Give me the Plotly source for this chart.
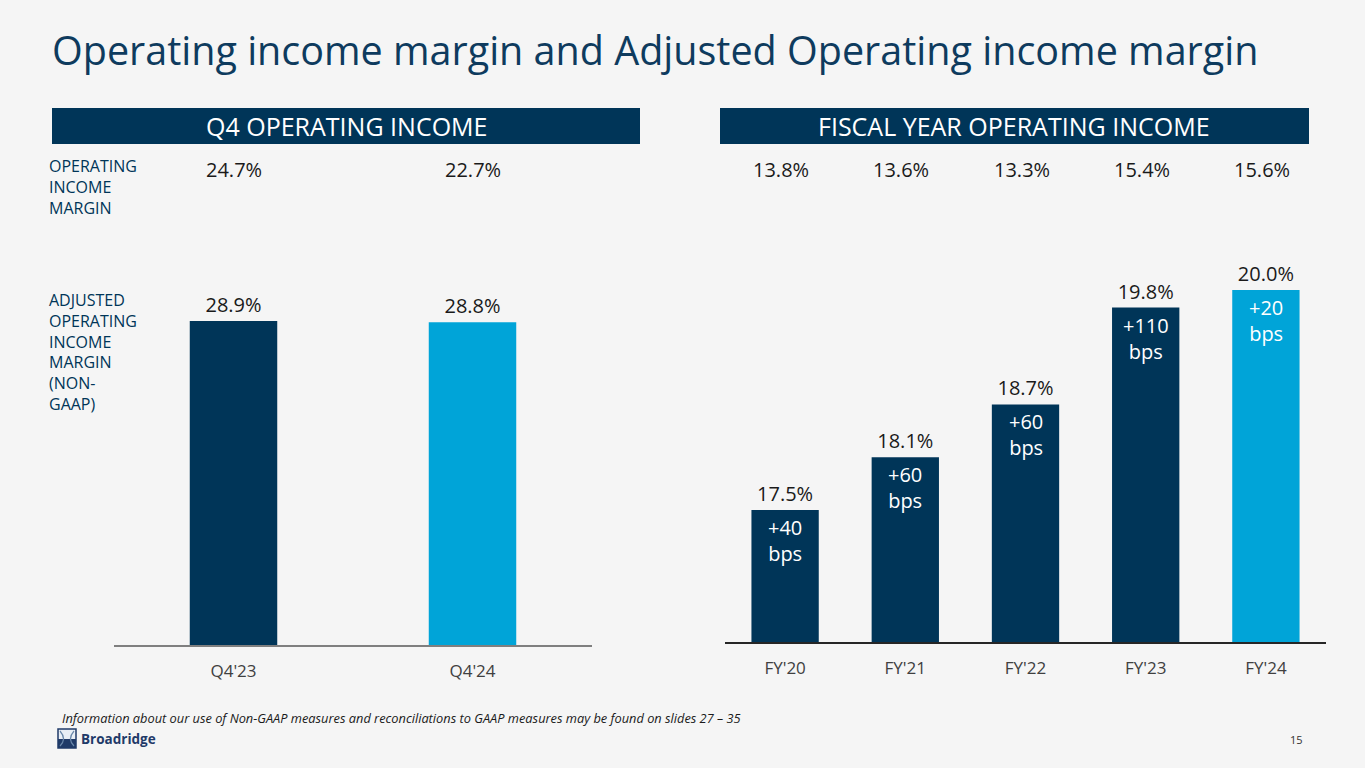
import plotly.graph_objects as go

# ---- data ----
q4_periods = ["Q4'23", "Q4'24"]
q4_adj_margin = [28.9, 28.8]
q4_op_margin = ["24.7%", "22.7%"]

fy_periods = ["FY'20", "FY'21", "FY'22", "FY'23", "FY'24"]
fy_adj_margin = [17.5, 18.1, 18.7, 19.8, 20.0]
fy_op_margin = ["13.8%", "13.6%", "13.3%", "15.4%", "15.6%"]
fy_bps_change = ["+40", "+60", "+60", "+110", "+20"]

NAVY = "#003558"
LIGHT = "#00A4D8"
TITLE = "#0E3B5E"
BG = "#F5F5F5"
FONT = "'Open Sans', 'Noto Sans', sans-serif"

W, H = 1365, 768


def px(x):
    return x / W


def py(y):
    return 1 - y / H


def note(x, y, text, size, color, xanchor="center", yanchor="middle", **kw):
    return dict(x=px(x), y=py(y), xref="paper", yref="paper", text=text,
                xanchor=xanchor, yanchor=yanchor, showarrow=False,
                font={"size": size, "color": color, "family": FONT}, **kw)


fig = go.Figure()

fig.add_trace(go.Bar(
    x=q4_periods, y=q4_adj_margin,
    marker={"color": [NAVY, LIGHT], "line": {"width": 0}},
    width=0.366,
    text=[f"{v:.1f}%" for v in q4_adj_margin],
    textposition="outside",
    textfont={"size": 20, "color": "#1A1A1A", "family": FONT},
    cliponaxis=False,
    xaxis="x", yaxis="y",
    hoverinfo="skip",
))

fy_colors = [NAVY] * (len(fy_periods) - 1) + [LIGHT]
fig.add_trace(go.Bar(
    x=fy_periods, y=fy_adj_margin,
    marker={"color": fy_colors, "line": {"width": 0}},
    width=0.56,
    text=[f"{v:.1f}%" for v in fy_adj_margin],
    textposition="outside",
    textfont={"size": 20, "color": "#1A1A1A", "family": FONT},
    cliponaxis=False,
    xaxis="x2", yaxis="y2",
    hoverinfo="skip",
))

annotations = []

# bps change inside FY bars
for p, v, b in zip(fy_periods, fy_adj_margin, fy_bps_change):
    annotations.append(dict(
        x=p, y=v, xref="x2", yref="y2", yanchor="top", yshift=-2,
        text=f"{b}<br>bps", showarrow=False,
        font={"size": 20, "color": "white", "family": FONT},
    ))

# operating income margin row
for p, t in zip(q4_periods, q4_op_margin):
    annotations.append(dict(
        x=p, y=py(170), xref="x", yref="paper", yanchor="middle", text=t,
        showarrow=False,
        font={"size": 20, "color": "#1A1A1A", "family": FONT},
    ))
for p, t in zip(fy_periods, fy_op_margin):
    annotations.append(dict(
        x=p, y=py(170), xref="x2", yref="paper", yanchor="middle", text=t,
        showarrow=False, xshift=-4,
        font={"size": 20, "color": "#1A1A1A", "family": FONT},
    ))

annotations += [
    note(50, 50, "Operating income margin and Adjusted Operating income margin",
         39.5, TITLE, xanchor="left"),
    note(346, 126, "Q4 OPERATING INCOME", 25, "white"),
    note(1014, 126, "FISCAL YEAR OPERATING INCOME", 25, "white"),
    note(47, 153, "OPERATING<br>INCOME<br>MARGIN", 16, NAVY,
         xanchor="left", yanchor="top", align="left"),
    note(47, 287, "ADJUSTED<br>OPERATING<br>INCOME<br>MARGIN<br>(NON-<br>GAAP)", 16, NAVY,
         xanchor="left", yanchor="top", align="left"),
    note(60, 718, "<i>Information about our use of Non-GAAP measures and reconciliations "
                  "to GAAP measures may be found on slides 27 – 35</i>",
         12.8, "#1A1A1A", xanchor="left"),
    note(79, 739, "<b>Broadridge</b>", 13.5, "#1F3A68", xanchor="left"),
    note(1305, 739, "15", 11, "#333333", xanchor="right"),
]

shapes = [
    dict(type="rect", xref="paper", yref="paper", x0=px(52), x1=px(640),
         y0=py(144), y1=py(108), fillcolor=NAVY, line={"width": 0}, layer="below"),
    dict(type="rect", xref="paper", yref="paper", x0=px(720), x1=px(1309),
         y0=py(144), y1=py(108), fillcolor=NAVY, line={"width": 0}, layer="below"),
    # logo icon
    dict(type="rect", xref="paper", yref="paper", x0=px(58), x1=px(76),
         y0=py(748), y1=py(729), fillcolor="#E8EEF5", line={"color": "#1F3A68", "width": 1.5}),
    dict(type="rect", xref="paper", yref="paper", x0=px(58), x1=px(76),
         y0=py(748), y1=py(739), fillcolor="#1F3A68", line={"width": 0}),
    dict(type="path", xref="paper", yref="paper",
         path=f"M {px(60)} {py(731)} Q {px(67)} {py(739)} {px(60)} {py(746)} "
              f"M {px(74)} {py(731)} Q {px(67)} {py(739)} {px(74)} {py(746)}",
         line={"color": "#6A88AA", "width": 1.2}),
]

fig.update_layout(
    width=W, height=H,
    margin={"l": 0, "r": 0, "t": 0, "b": 0, "autoexpand": False},
    paper_bgcolor=BG, plot_bgcolor=BG,
    showlegend=False,
    font={"family": FONT},
    annotations=annotations,
    shapes=shapes,
    xaxis=dict(
        domain=[px(114), px(592)], range=[-0.5, 1.5],
        showline=True, linecolor="#7F7F7F", linewidth=2,
        showgrid=False, zeroline=False, ticks="",
        tickfont={"size": 17, "color": "#404040", "family": FONT},
        ticklabelstandoff=10, automargin=False,
        anchor="y",
    ),
    yaxis=dict(
        domain=[py(645), py(645 - 11.21 * 31)], range=[0, 31],
        visible=False, anchor="x",
    ),
    xaxis2=dict(
        domain=[px(725), px(1326)], range=[-0.5, 4.5],
        showline=True, linecolor="#262626", linewidth=1.5,
        showgrid=False, zeroline=False, ticks="",
        tickfont={"size": 17, "color": "#404040", "family": FONT},
        ticklabelstandoff=10, automargin=False,
        anchor="y2",
    ),
    yaxis2=dict(
        domain=[py(642), py(642 - 88 * 4.6)], range=[16.0, 20.6],
        visible=False, anchor="x2",
    ),
)

fig.write_html("out.html", config={"displayModeBar": False},
               post_script="document.body.style.margin = '0';")
